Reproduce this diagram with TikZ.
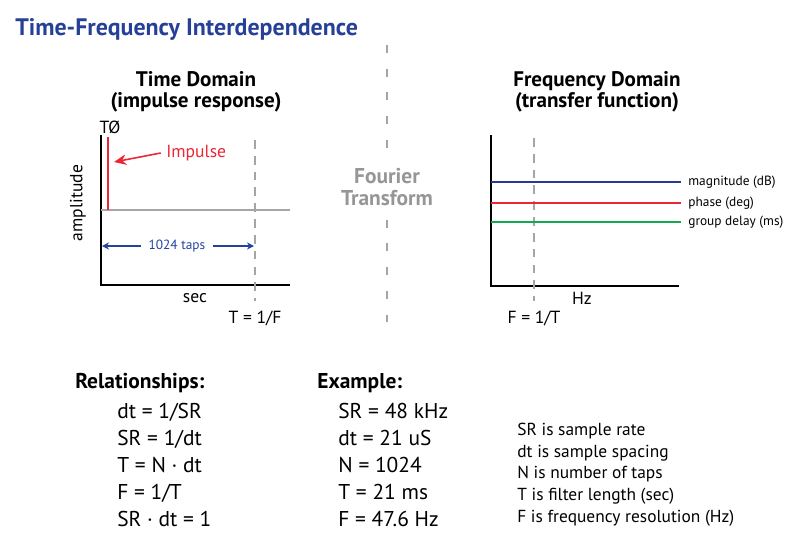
\documentclass[tikz,border=0pt]{standalone}
\usepackage{fontspec}
\setmainfont{PT Sans}
\usetikzlibrary{arrows.meta}
\definecolor{titleblue}{RGB}{38,64,152}
\definecolor{impred}{RGB}{236,38,52}
\definecolor{magblue}{RGB}{40,56,150}
\definecolor{delaygreen}{RGB}{20,168,80}
\definecolor{tapblue}{RGB}{36,66,160}
\definecolor{dashgray}{RGB}{165,165,165}
\definecolor{ftgray}{RGB}{150,150,150}
\tikzset{
  axis/.style={line width=1.1pt,black},
  cutline/.style={dashgray,line width=0.9pt,dash pattern=on 5pt off 4pt},
  head/.style={font=\fontsize{12}{14}\selectfont\bfseries,anchor=base},
  lbl/.style={font=\fontsize{10}{11}\selectfont},
  tiny lbl/.style={font=\fontsize{7.6}{8}\selectfont,anchor=west},
  body/.style={font=\fontsize{12.2}{14}\selectfont,anchor=base west},
  note/.style={font=\fontsize{9.9}{11}\selectfont,anchor=base west}
}
\begin{document}
\begin{tikzpicture}[x=0.02cm,y=-0.02cm,every node/.style={inner sep=0pt}]
\useasboundingbox (0,0) rectangle (800,558);
% title
\node[font=\fontsize{13.6}{15}\selectfont\bfseries,text=titleblue,anchor=base west] (title) at (15,35) {Time-Frequency Interdependence};
% divider
\node[font=\fontsize{12.2}{13}\selectfont\bfseries,text=ftgray,align=center] (fourier) at (387,187) {Fourier\\[-1pt]Transform};
\coordinate (divtop) at (387,45);
\coordinate (divbot) at (387,322);
\draw[dashgray,line width=0.9pt,dash pattern=on 4.5pt off 9pt] (divtop) -- ([yshift=8pt]fourier.north);
\draw[dashgray,line width=0.9pt,dash pattern=on 4.5pt off 9pt] ([yshift=-8pt]fourier.south) -- (divbot);
% time domain
\node[head] (thead) at (196,86) {Time Domain};
\node[head] (tsub) at (196,107) {(impulse response)};
\draw[axis] (101,135) |- (290,285);
\draw[gray!70,line width=0.8pt] (101,210) -- (290,210);
\node[lbl] (t0) at (110,127) {TØ};
\coordinate (spiketop) at (108,137);
\coordinate (spikebot) at (108,210);
\draw[impred,line width=1.2pt] (spiketop) -- (spikebot);
\node[lbl,text=impred,anchor=west] (impulse) at (166,153) {Impulse};
\coordinate (spike) at (114,162);
\draw[impred,line width=0.9pt,-{Stealth[length=7pt,width=6pt]}] ([xshift=-3pt]impulse.west) -- (spike);
\node[lbl,rotate=90] (amp) at (78,203) {amplitude};
\node[font=\fontsize{7.6}{8}\selectfont,text=tapblue,inner xsep=4pt] (taps) at (177,246) {1024 taps};
\coordinate (tapL) at (102,246);
\coordinate (tapR) at (254,246);
\draw[tapblue,line width=0.6pt,-{Stealth[length=4pt,width=4pt]}] (taps.west) -- (tapL);
\draw[tapblue,line width=0.6pt,-{Stealth[length=4pt,width=4pt]}] (taps.east) -- (tapR);
\node[lbl] (sec) at (195,298) {sec};
\node[lbl] (tlen) at (255,318) {T = 1/F};
\coordinate (ttop) at (255,140);
\draw[cutline] (ttop) -- ([yshift=5pt]tlen.north);
% frequency domain
\node[head] (fhead) at (597,86) {Frequency Domain};
\node[head] (fsub) at (597,107) {(transfer function)};
\draw[axis] (491,135) |- (679,286);
\coordinate (fres) at (534,138);
\node[lbl] (flen) at (534,318) {F = 1/T};
\draw[cutline] (fres) -- ([yshift=5pt]flen.north);
\node[lbl] (hz) at (582,298) {Hz};
\node[tiny lbl] (mag) at (688,182) {magnitude (dB)};
\node[tiny lbl] (phase) at (688,203) {phase (deg)};
\node[tiny lbl] (delay) at (688,222) {group delay (ms)};
\draw[magblue,line width=0.9pt] (491,182) -- ([xshift=-4pt]mag.west);
\draw[impred,line width=0.9pt] (491,203) -- ([xshift=-4pt]phase.west);
\draw[delaygreen,line width=0.9pt] (491,222) -- ([xshift=-4pt]delay.west);
% relationships
\node[body,font=\fontsize{12.2}{14}\selectfont\bfseries] (rel) at (75,388) {Relationships:};
\node[body] (rel1) at (117,418) {dt = 1/SR};
\node[body] (rel2) at (117,445) {SR = 1/dt};
\node[body] (rel3) at (117,472) {T = N · dt};
\node[body] (rel4) at (117,499) {F = 1/T};
\node[body] (rel5) at (117,526) {SR · dt = 1};
% example
\node[body,font=\fontsize{12.2}{14}\selectfont\bfseries] (ex) at (317,388) {Example:};
\node[body] (ex1) at (338,418) {SR = 48 kHz};
\node[body] (ex2) at (338,445) {dt = 21 uS};
\node[body] (ex3) at (338,472) {N = 1024};
\node[body] (ex4) at (338,499) {T = 21 ms};
\node[body] (ex5) at (338,526) {F = 47.6 Hz};
% legend
\node[note] (n1) at (517,435) {SR is sample rate};
\node[note] (n2) at (517,457) {dt is sample spacing};
\node[note] (n3) at (517,478) {N is number of taps};
\node[note] (n4) at (517,500) {T is filter length (sec)};
\node[note] (n5) at (517,522) {F is frequency resolution (Hz)};
\end{tikzpicture}
\end{document}
